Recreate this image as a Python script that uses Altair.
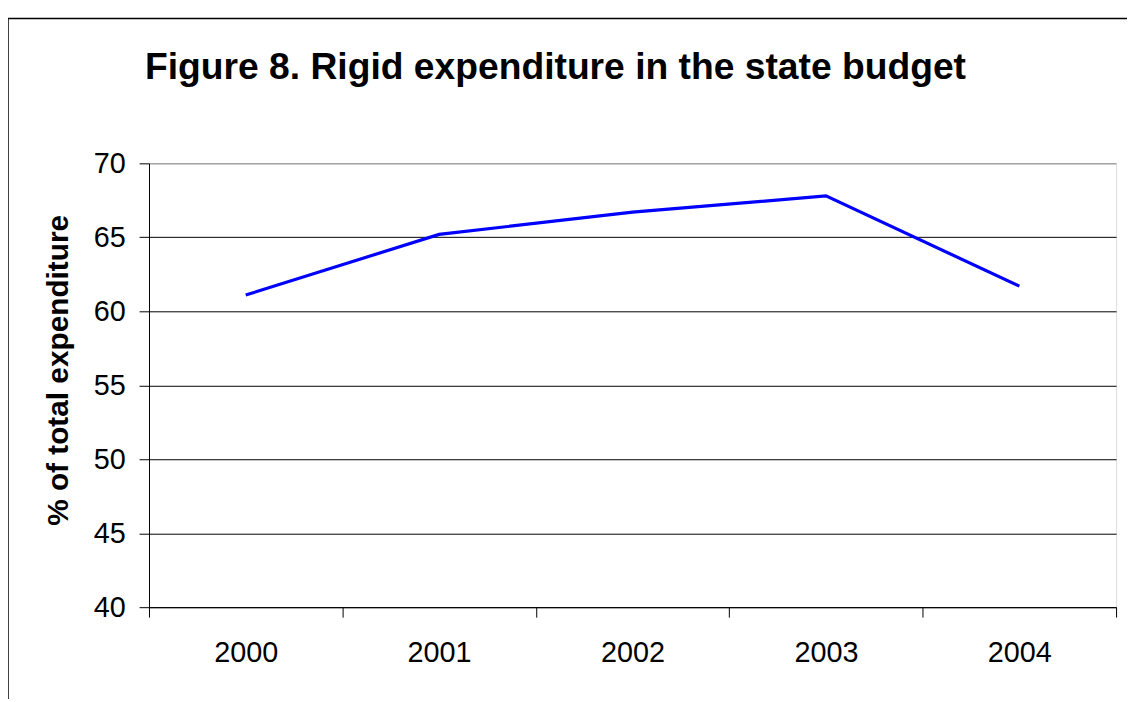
import altair as alt
import pandas as pd

years = ["2000", "2001", "2002", "2003", "2004"]
values = [61.1, 65.2, 66.7, 67.8, 61.7]
y_ticks = [40, 45, 50, 55, 60, 65, 70]

df = pd.DataFrame({"year": years, "value": values})
FONT = "Liberation Sans"

line = alt.Chart(df).mark_line(color="#0000FF", strokeWidth=3.2).encode(
    x=alt.X(
        "year:N",
        sort=years,
        scale=alt.Scale(type="band", paddingInner=0, paddingOuter=0),
        axis=alt.Axis(
            title=None,
            tickBand="extent",
            tickSize=10,
            tickColor="#000000",
            domainColor="#000000",
            labelAngle=0,
            labelFontSize=29,
            labelFont=FONT,
            labelColor="#000000",
            labelPadding=22,
            grid=False,
        ),
    ),
    y=alt.Y(
        "value:Q",
        scale=alt.Scale(domain=[40, 70], nice=False, zero=False),
        axis=alt.Axis(
            values=y_ticks,
            title="% of total expenditure",
            titleFont=FONT,
            titleFontSize=30,
            titleFontWeight="bold",
            titleColor="#000000",
            titleAngle=-90,
            titleBaseline="alphabetic",
            titleX=-82,
            titleY=208,
            tickSize=10,
            tickColor="#000000",
            domainColor="#000000",
            labelFontSize=29,
            labelFont=FONT,
            labelColor="#000000",
            labelPadding=14,
            grid=True,
            gridColor={"condition": {"test": "datum.value === 70", "value": "#808080"}, "value": "#000000"},
            gridWidth=1,
        ),
    ),
)

frame = alt.Chart(pd.DataFrame({"a": [0]})).mark_rect(
    filled=False, stroke="#000000", strokeWidth=1.5, clip=False
).encode(
    x=alt.value(-142), x2=alt.value(1100), y=alt.value(-146), y2=alt.value(700)
)

chart = alt.layer(frame, line).properties(
    width=974,
    height=447,
    autosize=alt.AutoSizeParams(type="none"),
    padding={"left": 142, "top": 154, "right": 11, "bottom": 90},
    title=alt.TitleParams(
        text="Figure 8. Rigid expenditure in the state budget",
        anchor="start",
        frame="group",
        font=FONT,
        fontSize=37.5,
        fontWeight="bold",
        color="#000000",
        baseline="alphabetic",
        offset=-99,
        dx=-4,
    ),
).configure_view(stroke="#808080", strokeWidth=1).configure(background="white")

chart.save("out.html", embed_options={"renderer": "svg", "actions": False})
